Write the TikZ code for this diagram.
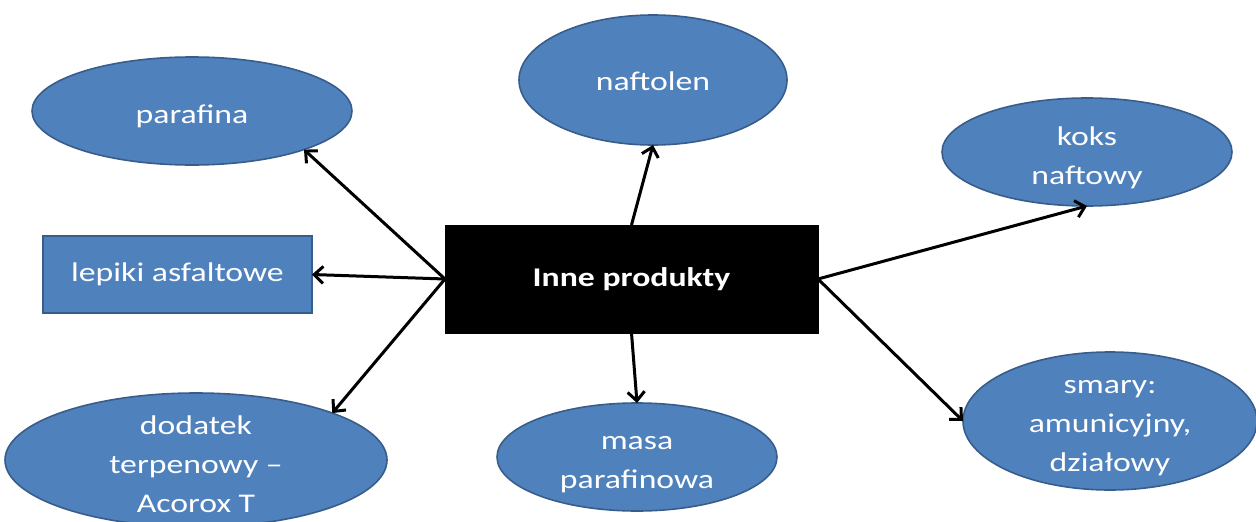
\documentclass[tikz,border=0pt]{standalone}
\usepackage{fontspec}
\setmainfont{Carlito}[FakeStretch=1.25]
\usetikzlibrary{shapes.geometric,arrows.meta}
\definecolor{blobfill}{HTML}{4F81BD}
\definecolor{blobline}{HTML}{385D8A}
\tikzset{
  blob/.style={ellipse, fill=blobfill, draw=blobline, line width=1.6pt, inner sep=0pt, outer sep=0pt},
  boxnode/.style={rectangle, fill=blobfill, draw=blobline, line width=1.6pt, inner sep=0pt, outer sep=0pt,
    text=white, font=\fontsize{27}{39}\selectfont},
  txt/.style={text=white, align=center, inner sep=0pt, font=\fontsize{27}{39}\selectfont},
  central/.style={rectangle, fill=black, draw=black, inner sep=0pt, outer sep=0pt,
    minimum width=373pt, minimum height=108pt, text=white, font=\fontsize{27}{39}\selectfont\bfseries},
  conn/.style={line width=3pt, -{Straight Barb[length=9pt,width=17pt,line width=3pt]}}
}
\begin{document}
\begin{tikzpicture}[x=1pt,y=-1pt]
\useasboundingbox (0,0) rectangle (1256,522);
\node[central] (c) at (631.5,279) {Inne produkty};
\node[blob, minimum width=320pt, minimum height=108pt] (par) at (192,111) {};
\node[txt] (parT) at (192,116) {parafina};
\node[blob, minimum width=268pt, minimum height=130pt] (naf) at (653,80) {};
\node[txt] (nafT) at (653,81) {naftolen};
\node[blob, minimum width=290pt, minimum height=108pt] (kok) at (1087,152) {};
\node[txt] (kokT) at (1087,158) {koks\\naftowy};
\node[boxnode, minimum width=269pt, minimum height=77pt] (lep) at (177.5,274.5) {lepiki asfaltowe};
\node[blob, minimum width=382pt, minimum height=134pt] (dod) at (196,460) {};
\node[txt] (dodT) at (196,464) {dodatek\\terpenowy –\\Acorox T};
\node[blob, minimum width=280pt, minimum height=108pt] (mas) at (637,457) {};
\node[txt] (masT) at (637,465) {masa\\parafinowa};
\node[blob, minimum width=294pt, minimum height=138pt] (sma) at (1110,421) {};
\node[txt] (smaT) at (1110,428) {smary:\\amunicyjny,\\działowy};
\draw[conn] (c.west) -- (par.-19.5);
\draw[conn] (c.west) -- (lep.east);
\draw[conn] (c.west) -- (dod.19.7);
\draw[conn] (c.north) -- (naf.south);
\draw[conn] (c.south) -- (mas.north);
\draw[conn] (c.east) -- (kok.south);
\draw[conn] (c.east) -- (sma.west);
\end{tikzpicture}
\end{document}
